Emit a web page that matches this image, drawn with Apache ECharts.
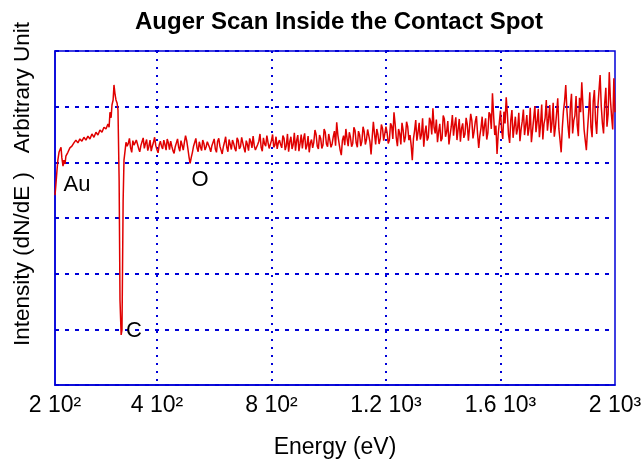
<!DOCTYPE html>
<html>
<head>
<meta charset="utf-8">
<script src="https://cdn.jsdelivr.net/npm/echarts@6/dist/echarts.min.js"></script>
<style>
  html, body { margin: 0; padding: 0; background: #fff; }
  #chart { width: 642px; height: 461px; }
</style>
</head>
<body>
<div id="chart"></div>
<script>
// x ticks (eV) and their labels as printed on the original plot
const xTickValues = [44, 400, 800, 1200, 1600, 2000]
const xTickLabels = ['2 10²', '4 10²', '8 10²', '1.2 10³', '1.6 10³', '2 10³']
const xGridValues = [400, 800, 1200, 1600]

// peak labels [energy, intensity, text]
const peakLabels = [
  [121, 35.9, 'Au'],
  [551, 36.8, 'O'],
  [320, 9.7, 'C']
]

// Au region + C dip
const spectrumLow = [
  [44, 34.1], [47, 35.9], [51, 38.6], [54, 40.4], [58, 41.8], [61, 42.2], [65, 42.7],
  [68, 40.8], [72, 39.3], [75, 40.4], [79, 39.7], [82, 41.1], [89, 41.8], [96, 42.6],
  [103, 42.9], [110, 43.5], [117, 44.0], [124, 43.5], [131, 44.2], [138, 43.8], [145, 44.5],
  [152, 44.0], [159, 44.7], [166, 44.2], [173, 45.1], [180, 44.5], [187, 45.4], [194, 44.9],
  [201, 45.8], [208, 45.4], [215, 46.3], [222, 46.0], [229, 46.9], [233, 46.3], [236, 49.0],
  [240, 48.0], [243, 50.3], [247, 51.2], [250, 53.9], [254, 52.1], [257, 51.2], [261, 50.6],
  [264, 49.4], [268, 36.8], [271, 15.3], [275, 9.0], [278, 9.9], [282, 33.2], [285, 40.4],
  [289, 42.2], [292, 43.6], [296, 42.9]
]

// flat part, O dip
const spectrumMid = [
  [300, 43.4], [304, 44.3], [308, 42.6], [312, 41.8], [316, 43.9], [320, 43.1], [324, 42.8],
  [328, 44.0], [332, 43.3], [336, 42.5], [340, 41.9], [344, 43.0], [348, 43.7], [352, 44.4],
  [356, 42.5], [360, 43.4], [364, 44.1], [368, 42.1], [372, 42.9], [376, 44.0], [380, 42.0],
  [384, 42.9], [388, 43.6], [392, 44.5], [396, 43.0], [400, 42.3], [404, 41.7], [408, 43.1],
  [412, 43.8], [416, 42.9], [420, 42.4], [424, 44.0], [428, 43.2], [432, 42.2], [436, 44.2],
  [440, 43.5], [444, 42.3], [448, 43.8], [452, 42.9], [456, 42.1], [460, 41.6], [464, 42.8],
  [468, 43.5], [472, 44.2], [476, 42.7], [480, 42.0], [484, 43.9], [488, 43.1], [492, 42.2],
  [496, 43.6], [500, 44.8], [504, 43.9], [508, 42.5], [512, 41.0], [516, 39.8], [520, 40.9],
  [524, 41.8], [528, 42.9], [532, 43.2], [536, 44.3], [540, 42.6], [544, 41.9], [548, 43.7],
  [552, 42.8], [556, 42.1], [560, 44.0], [564, 43.4], [568, 42.2], [572, 42.8], [576, 43.7],
  [580, 44.0], [584, 42.6], [588, 41.9], [592, 43.0], [596, 43.1], [600, 44.2], [604, 42.4],
  [608, 41.8], [612, 43.8], [616, 44.3], [620, 42.9], [624, 42.2], [628, 41.5], [632, 42.8],
  [636, 43.6], [640, 44.6], [644, 42.7], [648, 41.9], [652, 44.1], [656, 43.2], [660, 42.3],
  [664, 44.0], [668, 43.4], [672, 42.5], [676, 42.0], [680, 44.4], [684, 43.9], [688, 42.4],
  [692, 42.8], [696, 44.5], [700, 43.5], [704, 42.6], [708, 41.8], [712, 43.9], [716, 43.2],
  [720, 42.1], [724, 44.3], [728, 43.7], [732, 42.6], [736, 44.7], [740, 43.0], [744, 42.2],
  [748, 41.9], [752, 43.2], [756, 43.8], [760, 45.1], [764, 42.7], [768, 42.0], [772, 44.4],
  [776, 43.3], [780, 42.9], [784, 44.8], [788, 43.6], [792, 42.5], [796, 42.2], [800, 43.9],
  [804, 45.0], [808, 42.7], [812, 43.1], [816, 44.6], [820, 42.4], [824, 43.5], [828, 44.0],
  [832, 43.2]
]

// rising, noisier part up to 2 keV
const spectrumHigh = [
  [836, 42.6], [840, 44.8], [844, 44.3], [848, 42.2], [852, 43.0], [856, 45.1], [860, 41.9],
  [864, 43.7], [868, 44.6], [872, 42.4], [876, 43.2], [880, 45.3], [884, 42.1], [888, 43.9],
  [892, 44.9], [896, 42.0], [900, 43.4], [904, 45.0], [908, 42.5], [912, 44.2], [916, 45.2],
  [920, 42.3], [924, 43.0], [928, 44.7], [932, 41.8], [936, 43.5], [940, 44.1], [944, 42.6],
  [948, 43.6], [952, 45.8], [956, 45.0], [960, 42.9], [964, 42.4], [968, 44.9], [972, 44.3],
  [976, 42.5], [980, 43.1], [984, 46.0], [988, 45.4], [992, 43.3], [996, 42.8], [1000, 45.1],
  [1004, 44.0], [1008, 42.7], [1012, 43.3], [1016, 44.6], [1020, 45.6], [1024, 43.0], [1028, 47.2],
  [1032, 44.9], [1036, 43.5], [1040, 42.2], [1044, 41.3], [1048, 44.0], [1052, 44.8], [1056, 43.1],
  [1060, 46.0], [1064, 44.3], [1068, 42.9], [1072, 45.4], [1076, 44.5], [1080, 42.8], [1084, 43.4],
  [1088, 46.3], [1092, 45.7], [1096, 43.5], [1100, 42.7], [1104, 45.6], [1108, 44.9], [1112, 42.9],
  [1116, 43.8], [1120, 46.4], [1124, 45.5], [1128, 43.2], [1132, 44.1], [1136, 45.9], [1140, 46.2],
  [1144, 43.7], [1148, 41.4], [1152, 44.5], [1156, 47.3], [1160, 45.1], [1164, 43.2], [1168, 46.0],
  [1172, 45.0], [1176, 43.3], [1180, 44.2], [1184, 46.8], [1188, 46.1], [1192, 43.9], [1196, 43.6],
  [1200, 46.4], [1204, 45.3], [1208, 43.4], [1212, 44.0], [1216, 47.0], [1220, 46.5], [1224, 44.2],
  [1228, 49.0], [1232, 46.9], [1236, 44.4], [1240, 42.9], [1244, 46.0], [1248, 45.2], [1252, 43.2],
  [1256, 47.1], [1260, 45.8], [1264, 43.6], [1268, 44.6], [1272, 47.3], [1276, 46.4], [1280, 44.0],
  [1284, 44.9], [1288, 43.1], [1292, 40.4], [1296, 44.2], [1300, 45.7], [1304, 47.6], [1308, 43.9],
  [1312, 45.4], [1316, 47.1], [1320, 44.1], [1324, 45.0], [1328, 47.9], [1332, 42.8], [1336, 45.3],
  [1340, 46.6], [1344, 43.9], [1348, 44.5], [1352, 48.0], [1356, 47.4], [1360, 45.0], [1364, 49.7],
  [1368, 46.3], [1372, 45.2], [1376, 47.7], [1380, 43.6], [1384, 45.5], [1388, 46.9], [1392, 43.8],
  [1396, 44.3], [1400, 48.4], [1404, 47.8], [1408, 44.6], [1412, 45.5], [1416, 47.4], [1420, 43.2],
  [1424, 44.9], [1428, 46.4], [1432, 48.5], [1436, 44.8], [1440, 46.7], [1444, 48.1], [1448, 44.0],
  [1452, 45.9], [1456, 47.8], [1460, 43.7], [1464, 46.1], [1468, 47.0], [1472, 44.4], [1476, 45.1],
  [1480, 48.0], [1484, 46.8], [1488, 43.9], [1492, 44.2], [1496, 48.7], [1500, 47.5], [1504, 44.3],
  [1508, 45.6], [1512, 47.3], [1516, 48.3], [1520, 45.1], [1524, 42.6], [1528, 44.8], [1532, 46.2],
  [1536, 48.2], [1540, 44.7], [1544, 46.5], [1548, 47.9], [1552, 44.1], [1556, 45.3], [1560, 49.0],
  [1564, 48.6], [1568, 46.0], [1572, 52.4], [1576, 48.4], [1580, 44.9], [1584, 46.6], [1588, 41.5],
  [1592, 45.0], [1596, 47.2], [1600, 49.3], [1604, 45.8], [1608, 44.2], [1612, 49.1], [1616, 47.0],
  [1620, 51.7], [1624, 48.8], [1628, 45.0], [1632, 43.5], [1636, 47.6], [1640, 49.4], [1644, 44.4],
  [1648, 46.3], [1652, 48.2], [1656, 45.0], [1660, 46.1], [1664, 48.9], [1668, 43.8], [1672, 45.9],
  [1676, 47.4], [1680, 49.5], [1684, 44.9], [1688, 46.6], [1692, 48.5], [1696, 44.8], [1700, 46.2],
  [1704, 49.8], [1708, 43.6], [1712, 45.7], [1716, 47.9], [1720, 50.1], [1724, 45.4], [1728, 47.3],
  [1732, 49.6], [1736, 44.5], [1740, 46.8], [1744, 50.4], [1748, 44.1], [1752, 46.9], [1756, 48.0],
  [1760, 51.2], [1764, 45.7], [1768, 47.8], [1772, 50.3], [1776, 45.3], [1780, 47.1], [1784, 50.7],
  [1788, 44.6], [1792, 46.4], [1796, 48.8], [1800, 51.5], [1804, 46.0], [1808, 44.0], [1812, 41.8],
  [1816, 46.2], [1820, 49.2], [1824, 51.0], [1828, 53.9], [1832, 49.4], [1836, 46.5], [1840, 44.3],
  [1844, 49.9], [1848, 52.3], [1852, 45.2], [1856, 47.5], [1860, 48.4], [1864, 51.9], [1868, 46.7],
  [1872, 44.7], [1876, 51.6], [1880, 49.0], [1884, 54.4], [1888, 50.2], [1892, 45.9], [1896, 44.0],
  [1900, 42.2], [1904, 45.8], [1908, 48.9], [1912, 52.6], [1916, 46.3], [1920, 44.5], [1924, 51.0],
  [1928, 53.0], [1932, 47.5], [1936, 45.1], [1940, 49.8], [1944, 52.8], [1948, 55.7], [1952, 50.1],
  [1956, 47.0], [1960, 45.2], [1964, 50.6], [1968, 53.4], [1972, 46.4], [1976, 48.7], [1980, 56.2],
  [1984, 51.3], [1988, 48.3], [1992, 45.9], [1996, 55.1], [2000, 49.0]
]

const spectrum = spectrumLow.concat(spectrumMid, spectrumHigh)

const FONT = '"Liberation Sans", Arial, Helvetica, sans-serif'
const BLUE = '#0000d8'

const chart = echarts.init(document.getElementById('chart'))
chart.setOption({
  animation: false,
  title: {
    text: 'Auger Scan Inside the Contact Spot',
    left: 334,
    top: 5,
    textAlign: 'center',
    textStyle: { fontFamily: FONT, fontSize: 24, fontWeight: 'bold', color: '#000' }
  },
  grid: {
    left: 55, right: 27, top: 51, bottom: 76,
    outerBoundsMode: 'none',
    show: true,
    borderColor: BLUE,
    borderWidth: 1.5
  },
  xAxis: {
    type: 'value',
    min: 44,
    max: 2000,
    name: 'Energy (eV)',
    nameLocation: 'middle',
    nameGap: 51,
    nameTextStyle: { fontFamily: FONT, fontSize: 23, color: '#000' },
    axisLine: { show: true, lineStyle: { color: BLUE, width: 1.5 } },
    axisTick: { show: false, customValues: xGridValues },
    axisLabel: {
      customValues: xTickValues,
      fontFamily: FONT,
      fontSize: 23,
      color: '#000',
      margin: 9,
      formatter: v => xTickLabels[xTickValues.indexOf(v)]
    },
    splitLine: { show: true, lineStyle: { color: BLUE, width: 2, type: [2, 6] } }
  },
  yAxis: {
    type: 'value',
    min: 0,
    max: 60,
    interval: 10,
    axisLine: { show: true, lineStyle: { color: BLUE, width: 1.5 } },
    axisTick: { show: true, inside: true, length: 4, lineStyle: { color: BLUE } },
    axisLabel: { show: false },
    splitLine: { show: true, lineStyle: { color: BLUE, width: 2, type: [4, 6] } }
  },
  graphic: [{
    type: 'text',
    x: 23,
    y: 184,
    rotation: Math.PI / 2,
    style: {
      text: 'Intensity (dN/dE )   Arbitrary Unit',
      fontFamily: FONT,
      fontSize: 22.5,
      fill: '#000',
      textAlign: 'center',
      textVerticalAlign: 'middle'
    }
  }],
  series: [{
    type: 'line',
    data: spectrum,
    symbol: 'none',
    lineStyle: { color: '#e00000', width: 1.5 },
    markPoint: {
      symbol: 'circle',
      symbolSize: 0,
      label: {
        show: true,
        position: 'inside',
        fontFamily: FONT,
        fontSize: 22,
        color: '#000',
        formatter: p => p.name
      },
      data: peakLabels.map(d => ({ coord: [d[0], d[1]], name: d[2] }))
    }
  }]
})
</script>
</body>
</html>
